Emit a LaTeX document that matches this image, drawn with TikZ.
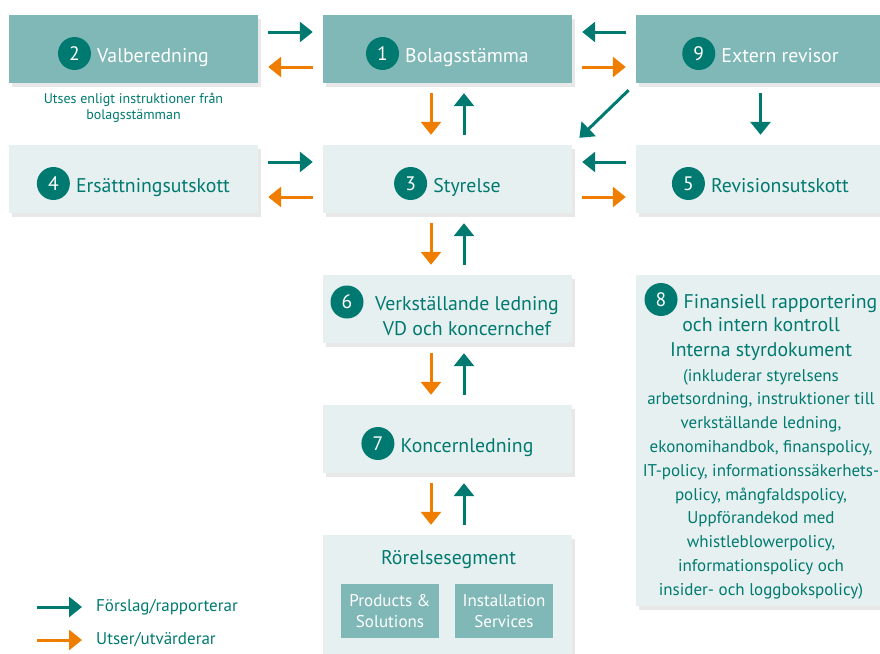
\documentclass[tikz,border=0pt]{standalone}
\usepackage{fontspec}
\setmainfont{PT Sans}
\usetikzlibrary{arrows.meta,shadows,positioning}

\definecolor{ngteal}{RGB}{0,122,112}
\definecolor{ngorange}{RGB}{239,125,0}
\definecolor{boxdark}{RGB}{127,184,182}
\definecolor{boxlight}{RGB}{231,240,240}

\tikzset{
  box/.style={minimum width=249pt, minimum height=68pt, inner sep=0pt,
    drop shadow={opacity=0.18, shadow xshift=2.5pt, shadow yshift=-3.5pt}},
  darkbox/.style={box, fill=boxdark},
  lightbox/.style={box, fill=boxlight},
  darktitle/.style={inner sep=0pt, text=white, font=\fontsize{19.8}{24.5}\selectfont},
  lighttitle/.style={darktitle, text=ngteal},
  numc/.style={circle, fill=ngteal, text=white, minimum size=33pt, inner sep=0pt,
    font=\fontsize{19.5}{20}\selectfont},
  small/.style={inner sep=0pt, text=ngteal, align=center, font=\fontsize{17}{21}\selectfont},
  fwd/.style={draw=ngteal, line width=3pt, -{Triangle[length=13pt,width=20pt]},
    shorten <=10pt, shorten >=10pt},
  bwd/.style={fwd, draw=ngorange}
}

\begin{document}
\begin{tikzpicture}[x=1pt, y=-1pt]
    \useasboundingbox (0,0) rectangle (880,653);

    % Boxes with a number and a one-line title
    \foreach \id/\x/\y/\bx/\tx/\txt in {2/133.5/49/darkbox/darktitle/Valberedning,
        1/447.5/49/darkbox/darktitle/Bolagsstämma, 9/760.5/49/darkbox/darktitle/Extern revisor,
        4/133.5/179/lightbox/lighttitle/Ersättningsutskott, 3/447.5/179/lightbox/lighttitle/Styrelse,
        5/760.5/179/lightbox/lighttitle/Revisionsutskott, 7/447.5/439/lightbox/lighttitle/Koncernledning} {
        \node[\bx] (b\id) at (\x,\y) {};
        \node[\tx, anchor=base] (t\id) at ([xshift=19.5pt,yshift=-13pt]b\id.center) {\txt};
        \node[numc] (n\id) at ([xshift=-22.5pt,yshift=8.5pt]t\id.base west) {\id};
    }

    % Valberedning note
    \node[small, font=\fontsize{14}{16}\selectfont] (note2) at (133.5,108)
        {Utses enligt instruktioner från\\bolagsstämman};

    % Verkställande ledning
    \node[lightbox] (b6) at (447.5,309) {};
    \node[lighttitle, align=center] (t6) at (467,316) {Verkställande ledning\\VD och koncernchef};
    \node[numc] (n6) at (347,302) {6};

    % Rörelsesegment
    \node[lightbox, minimum height=130pt] (b10) at (447.5,600) {};
    \node[lighttitle, anchor=base] (t10) at (448.5,564) {Rörelsesegment};
    \node[small, text=white, fill=boxdark, minimum width=98pt, minimum height=54pt] (ps) at (390,611)
        {Products \&\\Solutions};
    \node[small, text=white, fill=boxdark, minimum width=98pt, minimum height=54pt] (is) at (504,611)
        {Installation\\Services};

    % Finansiell rapportering
    \node[lightbox, minimum height=331pt] (b8) at (760.5,440.5) {};
    \node[lighttitle, anchor=base] (t8a) at (780.5,308) {Finansiell rapportering};
    \node[numc] (n8) at ([xshift=-22.5pt,yshift=8.5pt]t8a.base west) {8};
    \node[lighttitle, align=center] (t8b) at (761,339) {och intern kontroll\\Interna styrdokument};
    \node[small, font=\fontsize{17}{23.8}\selectfont] (t8c) at (761,484)
        {(inkluderar styrelsens\\arbetsordning, instruktioner till\\verkställande ledning,\\
        ekonomihandbok, finanspolicy,\\IT-policy, informationssäkerhets-\\policy, mångfaldspolicy,\\
        Uppförandekod med\\whistleblowerpolicy,\\informationspolicy och\\insider- och loggbokspolicy)};

    % Horizontal arrows
    \foreach \a/\b in {b2/b1, b4/b3} {
        \draw[fwd] ([yshift=17pt]\a.east) -- ([yshift=17pt]\b.west);
        \draw[bwd] ([yshift=-18pt]\b.west) -- ([yshift=-18pt]\a.east);
    }
    \foreach \a/\b in {b9/b1, b5/b3} {
        \draw[fwd] ([yshift=17pt]\a.west) -- ([yshift=17pt]\b.east);
        \draw[bwd] ([yshift=-18pt]\b.east) -- ([yshift=-18pt]\a.west);
    }

    % Vertical arrows
    \foreach \a/\b in {b1/b3, b3/b6, b6/b7, b7/b10} {
        \draw[bwd] ([xshift=-16.5pt]\a.south) -- ([xshift=-16.5pt]\b.north);
        \draw[fwd] ([xshift=16.5pt]\b.north) -- ([xshift=16.5pt]\a.south);
    }
    \draw[fwd] (b9.south west) -- (b3.north east);
    \draw[fwd] (b9.south) -- (b5.north);

    % Legend
    \coordinate (lg1) at (37,607);
    \coordinate (lg2) at (37,640);
    \node[small, anchor=west] (l1) at (96,607) {Förslag/rapporterar};
    \node[small, anchor=west] (l2) at (96,640) {Utser/utvärderar};
    \draw[fwd, shorten <=0pt, shorten >=14pt] (lg1) -- (l1.west);
    \draw[bwd, shorten <=0pt, shorten >=14pt] (lg2) -- (l2.west);

\end{tikzpicture}
\end{document}
